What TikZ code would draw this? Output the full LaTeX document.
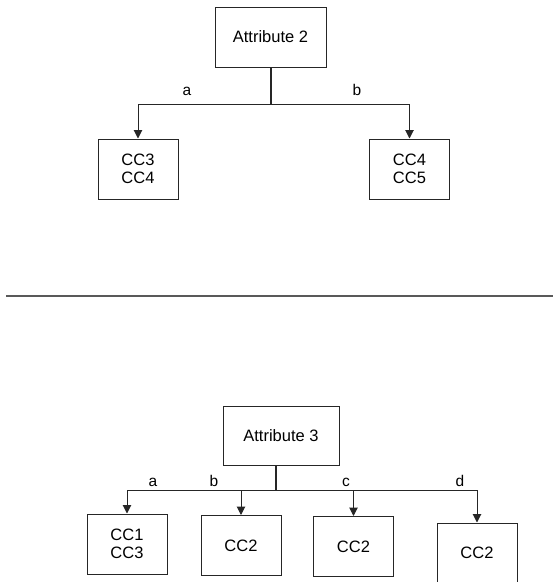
\documentclass[tikz,border=0pt]{standalone}
\usepackage{fontspec}
\setmainfont{Liberation Sans}
\usetikzlibrary{arrows.meta}

\begin{document}
\begin{tikzpicture}[x=1pt,y=-1pt,>={Triangle[width=8.5pt,length=8.5pt]},line width=1pt,
    box/.style={rectangle,draw=black!85,minimum width=80,minimum height=60,inner sep=0,align=left,font=\fontsize{16.5}{18}\selectfont},
    attr node/.style={box,minimum width=111,align=center},
    branch/.style={font=\fontsize{15.5}{17}\selectfont,inner sep=0,anchor=base}]

    \useasboundingbox (0,0) rectangle (553,582);

    % attribute 2
    \node[attr node] (attr2) at (270.5,37) {Attribute 2};
    \node[box] (cc34) at (138,169) {CC3\\CC4};
    \node[box] (cc45) at (409.5,169) {CC4\\CC5};
    \coordinate (j2) at (271,104);

    \draw[black!85,line width=1.2pt] (j2 |- attr2.south) -- (j2);
    \draw[->,black!85] (j2) -| (cc34.north);
    \draw[->,black!85] (j2) -| (cc45.north);

    \node[branch] (a2) at (187,95) {a};
    \node[branch] (b2) at (357,95) {b};

    % separator
    \coordinate (sepL) at (6,296);
    \coordinate (sepR) at (553,296);
    \draw[black!65,line width=1.4pt] (sepL) -- (sepR);

    % attribute 3
    \node[attr node,minimum width=116,minimum height=59] (attr3) at (281,435.5) {Attribute 3};
    \node[box] (cc13) at (127,544) {CC1\\CC3};
    \node[box] (cc2b) at (241,545.5) {CC2};
    \node[box] (cc2c) at (353.5,546.5) {CC2};
    \node[box] (cc2d) at (477,553) {CC2};
    \coordinate (j3) at (276,490);

    \draw[black!85,line width=1.6pt] (j3 |- attr3.south) -- (j3);
    \draw[->,black!85] (j3) -| (cc13.north);
    \draw[->,black!85] (j3) -| (cc2b.north);
    \draw[->,black!85] (j3) -| (cc2c.north);
    \draw[->,black!85] (j3) -| (cc2d.north);

    \node[branch] (a3) at (153,486) {a};
    \node[branch] (b3) at (214,486) {b};
    \node[branch] (c3) at (346,486) {c};
    \node[branch] (d3) at (460,486) {d};
\end{tikzpicture}
\end{document}
